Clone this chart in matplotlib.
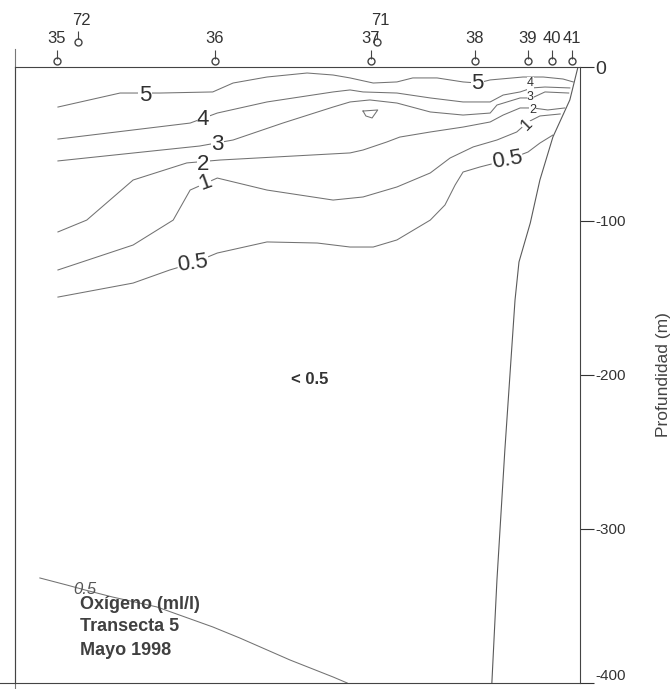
import matplotlib.pyplot as plt

plt.rcParams['font.family'] = ['Liberation Sans', 'DejaVu Sans']

# estaciones (distancia en km desde el borde izquierdo)
est_lab = ['35', '36', '37', '38', '39', '40', '41']
est_x = [7.4, 35.4, 63.0, 81.4, 90.8, 95.0, 98.6]
est2_lab = ['72', '71']
est2_x = [11.2, 64.1]

# isolineas de oxigeno (distancia km, profundidad m)
x5 = [7.6, 18.6, 25.7, 35.0, 38.6, 44.6, 51.7, 56.3, 59.3, 63.4, 67.6, 70.4, 74.7, 79.3, 81.9, 84.1, 89.9, 93.5, 97.0, 98.8]
z5 = [26.0, 16.9, 16.9, 16.2, 10.4, 6.5, 3.9, 5.2, 7.1, 10.4, 9.7, 7.1, 7.1, 9.7, 10.4, 8.4, 6.5, 6.5, 7.8, 9.7]
x4 = [7.6, 31.0, 35.8, 44.6, 56.3, 59.3, 61.6, 67.6, 73.5, 79.3, 84.1, 86.4, 89.4, 91.5, 93.8, 98.2]
z4 = [46.8, 36.4, 29.9, 22.7, 16.2, 14.9, 16.2, 16.9, 20.1, 22.7, 22.7, 18.2, 16.2, 13.6, 13.0, 13.6]
x3 = [7.6, 32.7, 38.6, 47.4, 56.3, 59.3, 62.8, 67.6, 73.5, 79.3, 84.1, 85.3, 89.4, 91.5, 93.8, 98.0]
z3 = [61.0, 51.3, 47.4, 36.4, 26.0, 22.7, 21.4, 23.4, 29.2, 31.2, 29.9, 24.7, 20.1, 20.1, 16.2, 16.9]
x2 = [7.6, 12.7, 20.9, 30.4, 36.3, 59.3, 61.6, 65.8, 68.1, 73.5, 79.3, 84.1, 86.4, 89.4, 91.7, 94.3, 97.3]
z2 = [107.1, 99.4, 73.4, 62.3, 60.4, 55.8, 53.9, 48.7, 45.5, 42.2, 39.0, 35.7, 31.2, 26.6, 26.6, 27.9, 26.6]
x1 = [7.6, 20.9, 28.0, 31.0, 35.8, 44.6, 56.3, 61.6, 67.6, 73.5, 77.0, 81.1, 85.3, 88.8, 90.8, 92.9, 96.5]
z1 = [131.8, 115.6, 99.4, 79.9, 72.1, 79.9, 86.4, 84.4, 77.9, 68.8, 59.1, 51.9, 47.4, 42.2, 35.7, 31.8, 30.5]
x05 = [7.6, 20.9, 27.4, 31.5, 35.8, 44.6, 53.5, 59.3, 63.4, 67.6, 73.5, 76.1, 77.9, 79.3, 82.3, 87.1, 90.8, 92.9, 95.2]
z05 = [149.4, 140.3, 131.8, 127.3, 120.8, 113.6, 114.3, 116.9, 116.9, 112.3, 99.4, 89.6, 76.6, 68.2, 64.9, 60.4, 55.2, 49.4, 44.2]
x05b = [4.4, 9.2, 12.4, 17.3, 25.1, 35.0, 39.8, 48.7, 56.3, 58.8]
z05b = [331.8, 336.4, 339.6, 344.2, 350.6, 363.6, 370.8, 385.1, 396.1, 400.0]
xcel = [61.6, 64.2, 63.2, 62.1, 61.6]
zcel = [28.6, 27.9, 33.1, 31.8, 28.6]

# fondo (talud)
xfondo = [99.6, 98.2, 95.2, 92.9, 91.2, 89.2, 88.5, 86.7, 85.3, 84.4]
zfondo = [0.6, 21.4, 45.5, 73.4, 101.3, 126.6, 151.3, 248.7, 333.1, 400.0]

# etiquetas de isolineas: (texto, x, z, rotacion, tamano)
etiquetas = [('5', 23.0, 18.2, 0, 16), ('5', 81.9, 10.4, 0, 16),
             ('4', 33.3, 34.4, 0, 16), ('4', 91.2, 10.6, 0, 9),
             ('3', 35.8, 50.6, 0, 16), ('3', 91.2, 19.3, 0, 9),
             ('2', 33.3, 63.6, 0, 16), ('2', 91.6, 28.0, 0, 9),
             ('1', 33.6, 75.3, 20, 16), ('1', 90.6, 37.5, 45, 12),
             ('0.5', 31.5, 127.3, 8, 16), ('0.5', 87.1, 60.4, 10, 16)]

fig = plt.figure(figsize=(6.72, 6.89), dpi=100)
ax = fig.add_axes([15/672, 6/689, 565/672, 616/689])

gris = '#727272'
for xs, zs in [(x5, z5), (x4, z4), (x3, z3), (x2, z2), (x1, z1), (x05, z05), (x05b, z05b), (xcel, zcel)]:
    ax.plot(xs, [-z for z in zs], color=gris, lw=0.75)
ax.plot(xfondo, [-z for z in zfondo], color='#5a5a5a', lw=0.8)

for t, x, z, r, fs in etiquetas:
    ax.text(x, -z, t, fontsize=fs, color='#303030', ha='center', va='center', rotation=r,
            bbox=dict(boxstyle='square,pad=0.02', fc='white', ec='none'))
ax.text(12.4, -339.6, '0.5', fontsize=12, color='#555555', style='italic', ha='center', va='center')

# estaciones
ax.plot(est_x, [3.9]*len(est_x), 'o', ms=5, mfc='white', mec='#444444', mew=1, clip_on=False)
ax.vlines(est_x, 5.5, 11, color='#444444', lw=0.8, clip_on=False)
for lab, x in zip(est_lab, est_x):
    ax.text(x, 18.5, lab, fontsize=12, color='#333333', ha='center', va='center')
ax.plot(est2_x, [16.2]*len(est2_x), 'o', ms=5, mfc='white', mec='#444444', mew=1, clip_on=False)
ax.vlines(est2_x, 18, 23.5, color='#444444', lw=0.8, clip_on=False)
for lab, x in zip(est2_lab, est2_x):
    ax.text(x + 0.6, 30.5, lab, fontsize=12, color='#333333', ha='center', va='center')

ax.text(52.2, -203, '< 0.5', fontsize=12, fontweight='bold', color='#333333', ha='center', va='center')
ax.text(11.5, -349, 'Oxígeno (ml/l)', fontsize=13, fontweight='bold', color='#404040', va='center')
ax.text(11.5, -363.6, 'Transecta 5', fontsize=13, fontweight='bold', color='#404040', va='center')
ax.text(11.5, -378.6, 'Mayo 1998', fontsize=13, fontweight='bold', color='#404040', va='center')

ax.set_xlim(0, 100)
ax.set_ylim(-400, 0)
ax.set_xticks([])
ax.set_yticks([0, -100, -200, -300, -400])
ax.set_yticklabels(['0', '-100', '-200', '-300', '-400'])
ax.yaxis.tick_right()
ax.tick_params(axis='y', direction='out', length=10, width=0.8, pad=1, labelsize=11, colors='#333333')
ax.get_yticklabels()[0].set_fontsize(14)
ax.get_yticklabels()[-1].set_va('bottom')
ax.yaxis.set_label_position('right')
ax.set_ylabel('Profundidad (m)', fontsize=12.5, color='#444444', labelpad=22)
for s in ax.spines.values():
    s.set_color('#444444')
    s.set_linewidth(0.8)
ax.plot([0, 0], [-0.02, 1.03], transform=ax.transAxes, color='#777777', lw=0.8, clip_on=False)
ax.plot([-0.027, 0], [0, 0], transform=ax.transAxes, color='#444444', lw=0.8, clip_on=False)

fig.savefig('out.png', dpi=100)
